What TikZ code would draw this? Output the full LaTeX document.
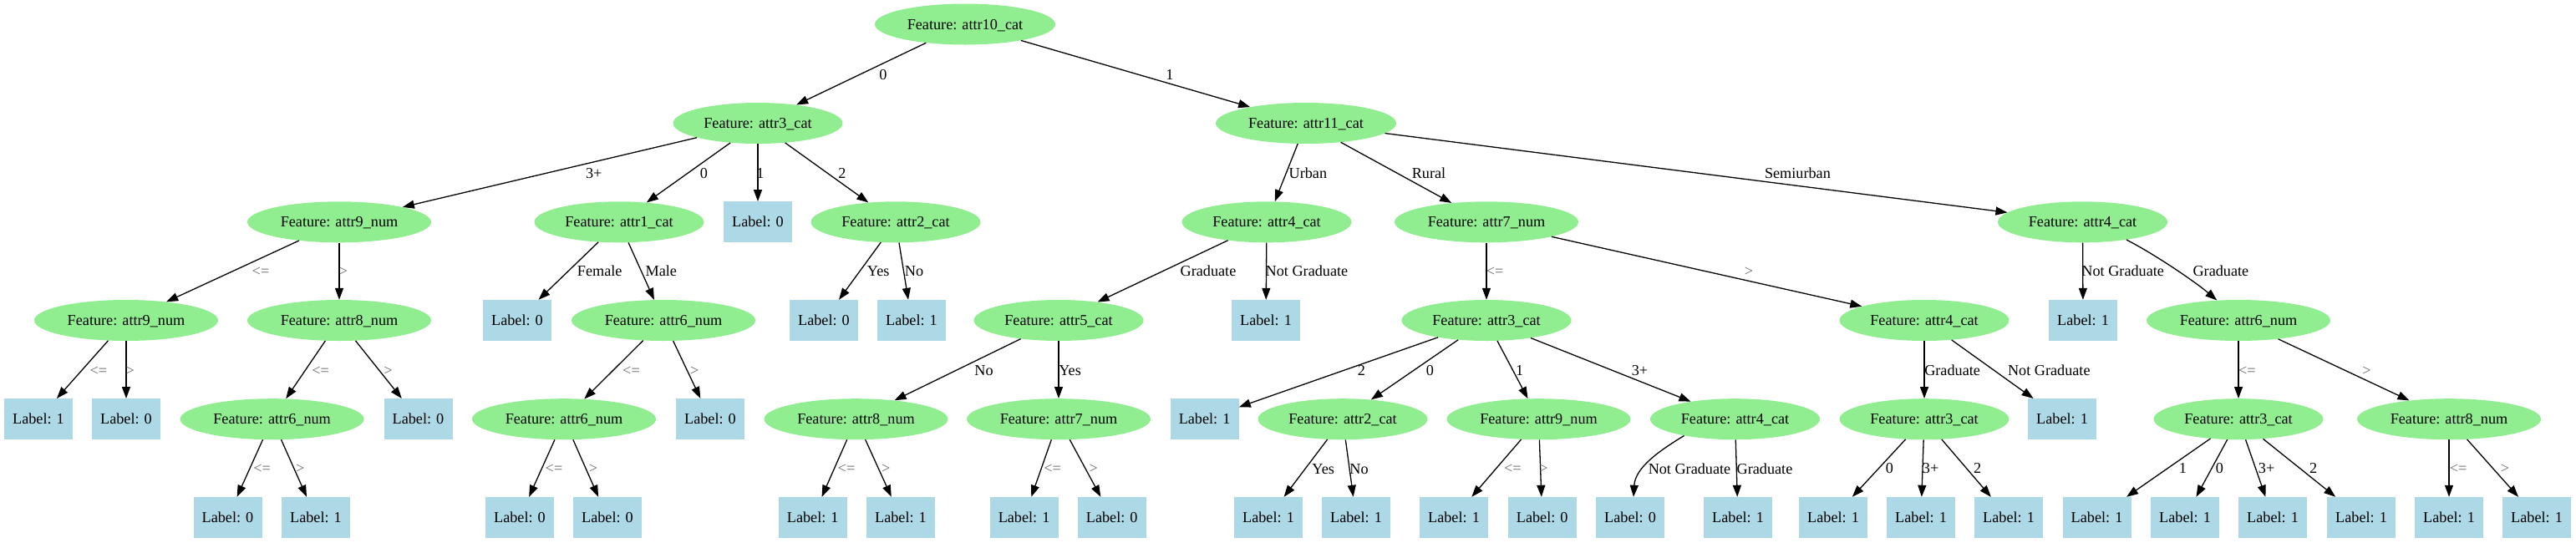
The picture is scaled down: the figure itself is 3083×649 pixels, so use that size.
\documentclass[tikz,border=0pt]{standalone}
\usepackage{fontspec}
\setmainfont{Liberation Serif}
\usetikzlibrary{arrows.meta,shapes.geometric}
\definecolor{lgreen}{HTML}{90EE90}
\definecolor{lblue}{HTML}{ADD8E6}
\definecolor{cmpgray}{HTML}{666666}
\begin{document}
\begin{tikzpicture}[x=1pt,y=-1pt,
  font=\fontsize{18.2}{22}\selectfont,
  feat/.style={ellipse,fill=lgreen,minimum width=203pt,minimum height=49pt,inner sep=0pt,text height=12pt,text depth=0pt},
  featw/.style={feat,minimum width=216pt},
  featn/.style={feat,minimum width=220pt},
  leaf/.style={rectangle,fill=lblue,minimum width=82pt,minimum height=49pt,inner sep=0pt,text height=12pt,text depth=0pt},
  elab/.style={inner sep=0pt,text height=12pt,text depth=0pt,anchor=center},
  cmp/.style={elab,text=cmpgray},
  edge/.style={-{Triangle[length=14pt,width=10pt]},line width=1.3pt,black}]
\useasboundingbox (0,0) rectangle (3083,649);
% level 0
\node[featw] (r) at (1155,29) {Feature: attr10\_cat};
% level 1
\node[feat] (a) at (907,147.5) {Feature: attr3\_cat};
\node[featw] (b) at (1563,147.5) {Feature: attr11\_cat};
% level 2
\node[featn] (a1) at (406,265.8) {Feature: attr9\_num};
\node[feat] (a2) at (741,265.8) {Feature: attr1\_cat};
\node[leaf] (a3) at (907,265.8) {Label: 0};
\node[feat] (a4) at (1072,265.8) {Feature: attr2\_cat};
\node[feat] (b1) at (1516,265.8) {Feature: attr4\_cat};
\node[featn] (b2) at (1779,265.8) {Feature: attr7\_num};
\node[feat] (b3) at (2492.5,265.8) {Feature: attr4\_cat};
% level 3
\node[featn] (a11) at (151,383.5) {Feature: attr9\_num};
\node[featn] (a12) at (406,383.5) {Feature: attr8\_num};
\node[leaf] (a21) at (619,383.5) {Label: 0};
\node[featn] (a22) at (794,383.5) {Feature: attr6\_num};
\node[leaf] (a41) at (986,383.5) {Label: 0};
\node[leaf] (a42) at (1091,383.5) {Label: 1};
\node[feat] (b11) at (1267,383.5) {Feature: attr5\_cat};
\node[leaf] (b12) at (1515,383.5) {Label: 1};
\node[feat] (b21) at (1779,383.5) {Feature: attr3\_cat};
\node[feat] (b22) at (2303,383.5) {Feature: attr4\_cat};
\node[leaf] (b31) at (2493,383.5) {Label: 1};
\node[featn] (b32) at (2679,383.5) {Feature: attr6\_num};
% level 4
\node[leaf] (a111) at (46,501.7) {Label: 1};
\node[leaf] (a112) at (151,501.7) {Label: 0};
\node[featn] (a121) at (325.6,501.7) {Feature: attr6\_num};
\node[leaf] (a122) at (500.5,501.7) {Label: 0};
\node[featn] (a221) at (675,501.7) {Feature: attr6\_num};
\node[leaf] (a222) at (850,501.7) {Label: 0};
\node[featn] (b111) at (1024.5,501.7) {Feature: attr8\_num};
\node[featn] (b112) at (1267,501.7) {Feature: attr7\_num};
\node[leaf] (b211) at (1441.6,501.7) {Label: 1};
\node[feat] (b212) at (1607,501.7) {Feature: attr2\_cat};
\node[featn] (b213) at (1841.5,501.7) {Feature: attr9\_num};
\node[feat] (b214) at (2076.5,501.7) {Feature: attr4\_cat};
\node[feat] (b221) at (2303,501.7) {Feature: attr3\_cat};
\node[leaf] (b222) at (2468,501.7) {Label: 1};
\node[feat] (b321) at (2679,501.7) {Feature: attr3\_cat};
\node[featn] (b322) at (2931,501.7) {Feature: attr8\_num};
% level 5
\node[leaf] (a1211) at (272.5,619.5) {Label: 0};
\node[leaf] (a1212) at (378,619.5) {Label: 1};
\node[leaf] (a2211) at (622,619.5) {Label: 0};
\node[leaf] (a2212) at (727,619.5) {Label: 0};
\node[leaf] (b1111) at (972.7,619.5) {Label: 1};
\node[leaf] (b1112) at (1078,619.5) {Label: 1};
\node[leaf] (b1121) at (1225.6,619.5) {Label: 1};
\node[leaf] (b1122) at (1330.7,619.5) {Label: 0};
\node[leaf] (b2121) at (1518,619.5) {Label: 1};
\node[leaf] (b2122) at (1623,619.5) {Label: 1};
\node[leaf] (b2131) at (1740,619.5) {Label: 1};
\node[leaf] (b2132) at (1845.7,619.5) {Label: 0};
\node[leaf] (b2141) at (1951,619.5) {Label: 0};
\node[leaf] (b2142) at (2080,619.5) {Label: 1};
\node[leaf] (b2211) at (2194,619.5) {Label: 1};
\node[leaf] (b2212) at (2299,619.5) {Label: 1};
\node[leaf] (b2213) at (2404,619.5) {Label: 1};
\node[leaf] (b3211) at (2509.5,619.5) {Label: 1};
\node[leaf] (b3212) at (2615,619.5) {Label: 1};
\node[leaf] (b3213) at (2720,619.5) {Label: 1};
\node[leaf] (b3214) at (2826,619.5) {Label: 1};
\node[leaf] (b3221) at (2931,619.5) {Label: 1};
\node[leaf] (b3222) at (3036,619.5) {Label: 1};
% edges
\draw[edge] (r) -- (a);
\draw[edge] (r) -- (b);
\draw[edge] (a) -- (a1);
\draw[edge] (a) -- (a2);
\draw[edge] (a) -- (a3);
\draw[edge] (a) -- (a4);
\draw[edge] (b) -- (b1);
\draw[edge] (b) -- (b2);
\draw[edge] (b) -- (b3);
\draw[edge] (a1) -- (a11);
\draw[edge] (a1) -- (a12);
\draw[edge] (a2) -- (a21);
\draw[edge] (a2) -- (a22);
\draw[edge] (a4) -- (a41);
\draw[edge] (a4) -- (a42);
\draw[edge] (b1) -- (b11);
\draw[edge] (b1) -- (b12);
\draw[edge] (b2) -- (b21);
\draw[edge] (b2) -- (b22);
\draw[edge] (b3) -- (b31);
\draw[edge] (b3.-22) .. controls (2580,305) and (2628,338) .. (b32.137);
\draw[edge] (a11) -- (a111);
\draw[edge] (a11) -- (a112);
\draw[edge] (a12) -- (a121);
\draw[edge] (a12) -- (a122);
\draw[edge] (a22) -- (a221);
\draw[edge] (a22) -- (a222);
\draw[edge] (b11) -- (b111);
\draw[edge] (b11) -- (b112);
\draw[edge] (b21) -- (b211);
\draw[edge] (b21) -- (b212);
\draw[edge] (b21) -- (b213);
\draw[edge] (b21) -- (b214);
\draw[edge] (b22) -- (b221);
\draw[edge] (b22) -- (b222);
\draw[edge] (b32) -- (b321);
\draw[edge] (b32) -- (b322);
\draw[edge] (a121) -- (a1211);
\draw[edge] (a121) -- (a1212);
\draw[edge] (a221) -- (a2211);
\draw[edge] (a221) -- (a2212);
\draw[edge] (b111) -- (b1111);
\draw[edge] (b111) -- (b1112);
\draw[edge] (b112) -- (b1121);
\draw[edge] (b112) -- (b1122);
\draw[edge] (b212) -- (b2121);
\draw[edge] (b212) -- (b2122);
\draw[edge] (b213) -- (b2131);
\draw[edge] (b213) -- (b2132);
\draw[edge] (b214.-162) .. controls (1985,540) and (1957,560) .. ([xshift=4pt]b2141.north);
\draw[edge] (b214) -- (b2142);
\draw[edge] (b221) -- (b2211);
\draw[edge] (b221) -- (b2212);
\draw[edge] (b221) -- (b2213);
\draw[edge] (b321) -- (b3211);
\draw[edge] (b321) -- (b3212);
\draw[edge] (b321) -- (b3213);
\draw[edge] (b321) -- (b3214);
\draw[edge] (b322) -- (b3221);
\draw[edge] (b322) -- (b3222);
% edge labels level 0-1
\node[elab] (l-r-a) at (1057,89.3) {0};
\node[elab] (l-r-b) at (1400,89.3) {1};
% level 1-2
\node[elab] (l-a-a1) at (710.7,207.3) {3+};
\node[elab] (l-a-a2) at (842.5,207.3) {0};
\node[elab] (l-a-a3) at (910,207.3) {1};
\node[elab] (l-a-a4) at (1008,207.3) {2};
\node[elab] (l-b-b1) at (1565.4,207.3) {Urban};
\node[elab] (l-b-b2) at (1710,207.3) {Rural};
\node[elab] (l-b-b3) at (2151.4,207.3) {Semiurban};
% level 2-3
\node[cmp] (l-a1-a11) at (312,324.5) {<=};
\node[cmp] (l-a1-a12) at (411,324.5) {>};
\node[elab] (l-a2-a21) at (717.7,324.5) {Female};
\node[elab] (l-a2-a22) at (791.3,324.5) {Male};
\node[elab] (l-a4-a41) at (1051.2,324.5) {Yes};
\node[elab] (l-a4-a42) at (1094,324.5) {No};
\node[elab] (l-b1-b11) at (1446,324.5) {Graduate};
\node[elab] (l-b1-b12) at (1564,324.5) {Not Graduate};
\node[cmp] (l-b2-b21) at (1789,324.5) {<=};
\node[cmp] (l-b2-b22) at (2093,324.5) {>};
\node[elab] (l-b3-b31) at (2540.7,324.5) {Not Graduate};
\node[elab] (l-b3-b32) at (2657.9,324.5) {Graduate};
% level 3-4
\node[cmp] (l-a11-a111) at (117.9,443) {<=};
\node[cmp] (l-a11-a112) at (155.7,443) {>};
\node[cmp] (l-a12-a121) at (383.7,443) {<=};
\node[cmp] (l-a12-a122) at (464.4,443) {>};
\node[cmp] (l-a22-a221) at (755.5,443) {<=};
\node[cmp] (l-a22-a222) at (831.3,443) {>};
\node[elab] (l-b11-b111) at (1177.5,443) {No};
\node[elab] (l-b11-b112) at (1280.6,443) {Yes};
\node[elab] (l-b21-b211) at (1629.3,443) {2};
\node[elab] (l-b21-b212) at (1711.4,443) {0};
\node[elab] (l-b21-b213) at (1818.7,443) {1};
\node[elab] (l-b21-b214) at (1962.5,443) {3+};
\node[elab] (l-b22-b221) at (2336.6,443) {Graduate};
\node[elab] (l-b22-b222) at (2452.3,443) {Not Graduate};
\node[cmp] (l-b32-b321) at (2689.4,443) {<=};
\node[cmp] (l-b32-b322) at (2832.5,443) {>};
% level 4-5
\node[cmp] (l-a121-1) at (313.6,560.5) {<=};
\node[cmp] (l-a121-2) at (359.2,560.5) {>};
\node[cmp] (l-a221-1) at (663,560.5) {<=};
\node[cmp] (l-a221-2) at (710,560.5) {>};
\node[cmp] (l-b111-1) at (1013,560.5) {<=};
\node[cmp] (l-b111-2) at (1060.3,560.5) {>};
\node[cmp] (l-b112-1) at (1259.6,560.5) {<=};
\node[cmp] (l-b112-2) at (1308.7,560.5) {>};
\node[elab] (l-b212-1) at (1583.7,561) {Yes};
\node[elab] (l-b212-2) at (1626.5,561) {No};
\node[cmp] (l-b213-1) at (1810.3,560.5) {<=};
\node[cmp] (l-b213-2) at (1847.5,560.5) {>};
\node[elab] (l-b214-1) at (2022,561) {Not Graduate};
\node[elab] (l-b214-2) at (2112,561) {Graduate};
\node[elab] (l-b221-1) at (2261.5,560.5) {0};
\node[elab] (l-b221-2) at (2310.6,560.5) {3+};
\node[elab] (l-b221-3) at (2366.7,560.5) {2};
\node[elab] (l-b321-1) at (2612.3,560.5) {1};
\node[elab] (l-b321-2) at (2656.5,560.5) {0};
\node[elab] (l-b321-3) at (2712.6,560.5) {3+};
\node[elab] (l-b321-4) at (2768.7,560.5) {2};
\node[cmp] (l-b322-1) at (2942,560.5) {<=};
\node[cmp] (l-b322-2) at (2998,560.5) {>};
\end{tikzpicture}
\end{document}
